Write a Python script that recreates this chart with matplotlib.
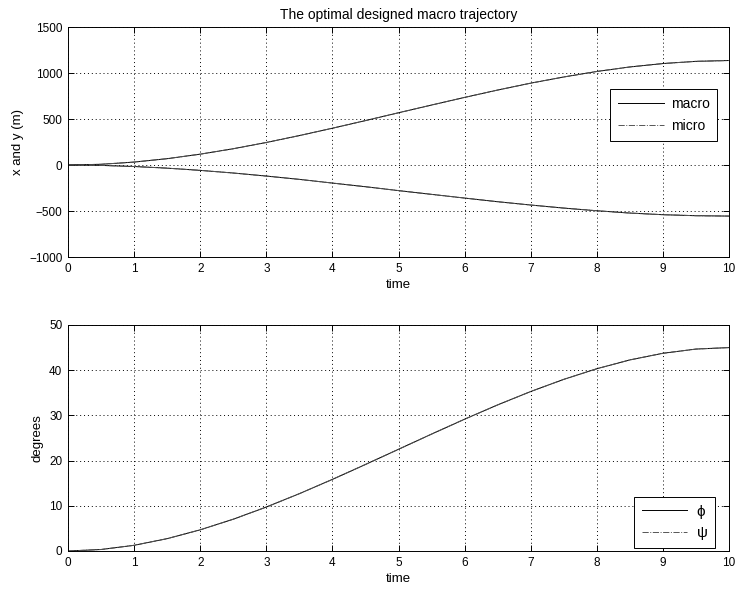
import matplotlib
matplotlib.use("Agg")
import matplotlib.pyplot as plt
import numpy as np

plt.rcParams['font.family'] = ['Liberation Sans', 'DejaVu Sans']

t = [0, 0.5, 1, 1.5, 2, 2.5, 3, 3.5, 4, 4.5, 5, 5.5, 6, 6.5, 7, 7.5, 8, 8.5, 9, 9.5, 10]
x_pos = [0, 8, 32, 69, 118, 177, 245, 320, 400, 483, 568, 652, 735, 815, 890, 957, 1017, 1066, 1103, 1127, 1136]
y_pos = [0, -4, -16, -34, -58, -87, -120, -156, -196, -236, -278, -319, -359, -399, -435, -468, -497, -522, -540, -551, -555]
phi = [0, 0.33, 1.26, 2.73, 4.68, 7.03, 9.72, 12.68, 15.84, 19.14, 22.5, 25.86, 29.16, 32.32, 35.28, 37.97, 40.32, 42.27, 43.74, 44.67, 45]
psi = list(phi)

title = "The optimal designed macro trajectory"
xticks = list(range(0, 11))
top_yticks = [-1000, -500, 0, 500, 1000, 1500]
bot_yticks = [0, 10, 20, 30, 40, 50]

fig = plt.figure(figsize=(7.39, 5.94), dpi=100)
ax1 = fig.add_axes([0.092, 0.5673, 0.8945, 0.3872])
ax2 = fig.add_axes([0.092, 0.0724, 0.8945, 0.3805])

FS = 8.5
lw = 0.7

def style(ax):
    ax.set_xlim(0, 10)
    ax.set_xticks(xticks)
    ax.grid(True, linestyle=(0, (1, 3)), color='black', linewidth=0.7)
    ax.tick_params(direction='in', top=True, right=True, labelsize=FS, length=4, width=0.7, pad=4)
    for s in ax.spines.values():
        s.set_linewidth(0.7)
    ax.set_xlabel('time', fontsize=9.5, labelpad=3)

ax1.plot(t, x_pos, '-', color='black', lw=lw, label='macro')
ax1.plot(t, x_pos, '-.', color='#555555', lw=lw, label='micro')
ax1.plot(t, y_pos, '-', color='black', lw=lw)
ax1.plot(t, y_pos, '-.', color='#555555', lw=lw)
ax1.set_ylim(-1000, 1500)
ax1.set_yticks(top_yticks)
ax1.set_ylabel('x and y (m)', fontsize=9.5)
ax1.set_title(title, fontsize=10, pad=6)
style(ax1)
leg1 = ax1.legend(loc='upper right', bbox_to_anchor=(0.982, 0.73), fontsize=10, fancybox=False,
                  edgecolor='black', framealpha=1, handlelength=3.3, borderaxespad=0,
                  borderpad=0.55, labelspacing=0.6, handletextpad=0.5)
leg1.get_frame().set_linewidth(0.7)

ax2.plot(t, phi, '-', color='black', lw=lw, label='ϕ')
ax2.plot(t, psi, '-.', color='#555555', lw=lw, label='ψ')
ax2.set_ylim(0, 50)
ax2.set_yticks(bot_yticks)
ax2.set_ylabel('degrees', fontsize=9.5)
style(ax2)
leg2 = ax2.legend(loc='lower right', bbox_to_anchor=(0.979, 0.013), fontsize=11, fancybox=False,
                  edgecolor='black', framealpha=1, handlelength=3.0, borderaxespad=0,
                  borderpad=0.5, labelspacing=0.5, handletextpad=0.6)
leg2.get_frame().set_linewidth(0.7)

fig.savefig('out.png', dpi=100)
